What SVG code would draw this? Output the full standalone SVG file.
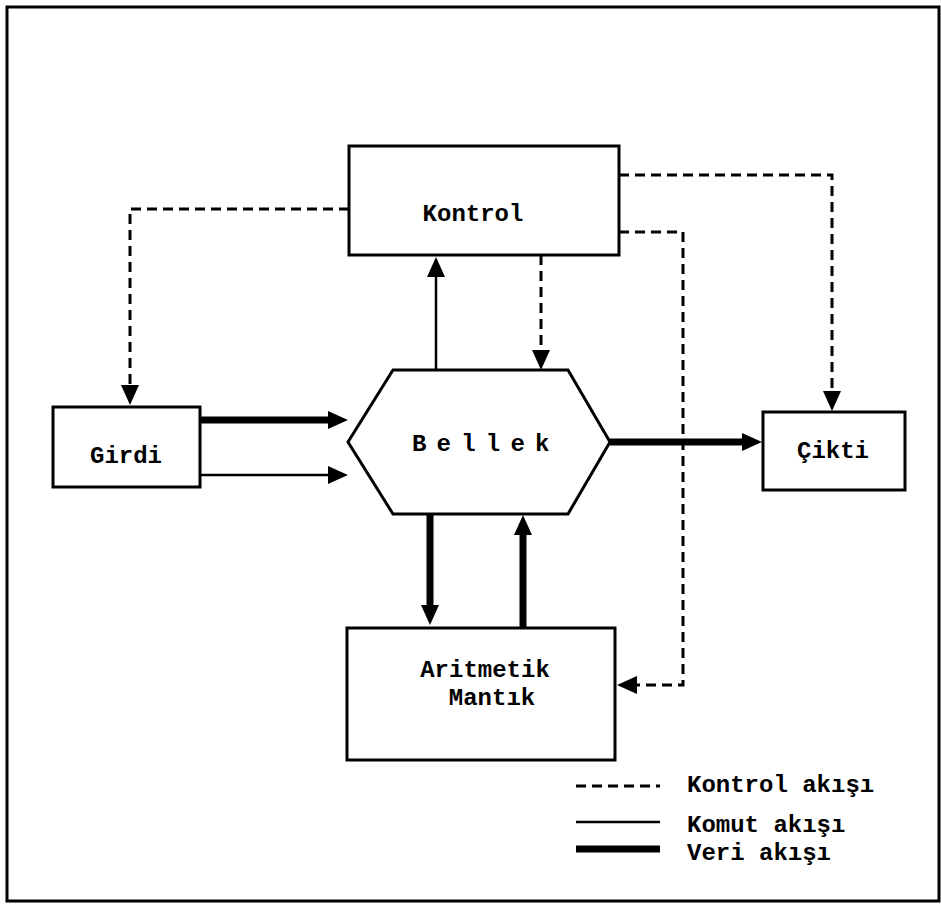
<svg xmlns="http://www.w3.org/2000/svg" width="941" height="908" viewBox="0 0 941 908">
<style>
.box{fill:#fff;stroke:#000;stroke-width:3}
.lbl{font-family:"Liberation Mono","DejaVu Sans Mono",monospace;font-weight:bold;font-size:24px;fill:#000}
.dash{fill:none;stroke:#000;stroke-width:3;stroke-dasharray:10 6}
.thin{fill:none;stroke:#000;stroke-width:2.5}
.thick{fill:none;stroke:#000;stroke-width:7}
</style>
<defs>
<marker id="ah" viewBox="0 0 20 18" refX="0" refY="9" markerWidth="20" markerHeight="18" markerUnits="userSpaceOnUse" orient="auto">
<path d="M0,0 L20,9 L0,18 Z" fill="#000"/>
</marker>
</defs>
<rect x="7" y="7" width="932" height="894" fill="#fff" stroke="#000" stroke-width="3"/>
<g id="connectors">
<path class="dash" d="M349,209 H130 V385" marker-end="url(#ah)"/>
<path class="thick" d="M200,420 H328" marker-end="url(#ah)"/>
<path class="thin" d="M200,475 H328" marker-end="url(#ah)"/>
<path class="thin" d="M436,370 V277" marker-end="url(#ah)"/>
<path class="dash" d="M541,255 V350" marker-end="url(#ah)"/>
<path class="thick" d="M610,442 H742" marker-end="url(#ah)"/>
<path class="dash" d="M619,175 H832 V391" marker-end="url(#ah)"/>
<path class="dash" d="M619,232 H683 V685 H637" marker-end="url(#ah)"/>
<path class="thick" d="M430,514 V605" marker-end="url(#ah)"/>
<path class="thick" d="M523,628 V535" marker-end="url(#ah)"/>
</g>
<g id="kontrol">
<rect class="box" x="349" y="146" width="270" height="109"/>
<text class="lbl" x="473" y="221" text-anchor="middle">Kontrol</text>
</g>
<g id="girdi">
<rect class="box" x="53" y="407" width="147" height="80"/>
<text class="lbl" x="126" y="463" text-anchor="middle">Girdi</text>
</g>
<g id="bellek">
<polygon class="box" points="393,370 568,370 610,442 568,514 393,514 348,442"/>
<text class="lbl" x="412" y="451" style="letter-spacing:10.2px">Bellek</text>
</g>
<g id="cikti">
<rect class="box" x="763" y="412" width="142" height="78"/>
<text class="lbl" x="833" y="458" text-anchor="middle">Çikti</text>
</g>
<g id="aritmetik">
<rect class="box" x="347" y="628" width="268" height="132"/>
<text class="lbl" x="485" y="677" text-anchor="middle">Aritmetik</text>
<text class="lbl" x="492" y="705" text-anchor="middle">Mantık</text>
</g>
<g id="legend">
<line class="dash" x1="576" y1="786" x2="660" y2="786"/>
<line class="thin" x1="576" y1="822" x2="660" y2="822"/>
<line class="thick" x1="576" y1="849" x2="660" y2="849"/>
<text class="lbl" x="687" y="792">Kontrol akışı</text>
<text class="lbl" x="687" y="832">Komut akışı</text>
<text class="lbl" x="687" y="860">Veri akışı</text>
</g>
</svg>
